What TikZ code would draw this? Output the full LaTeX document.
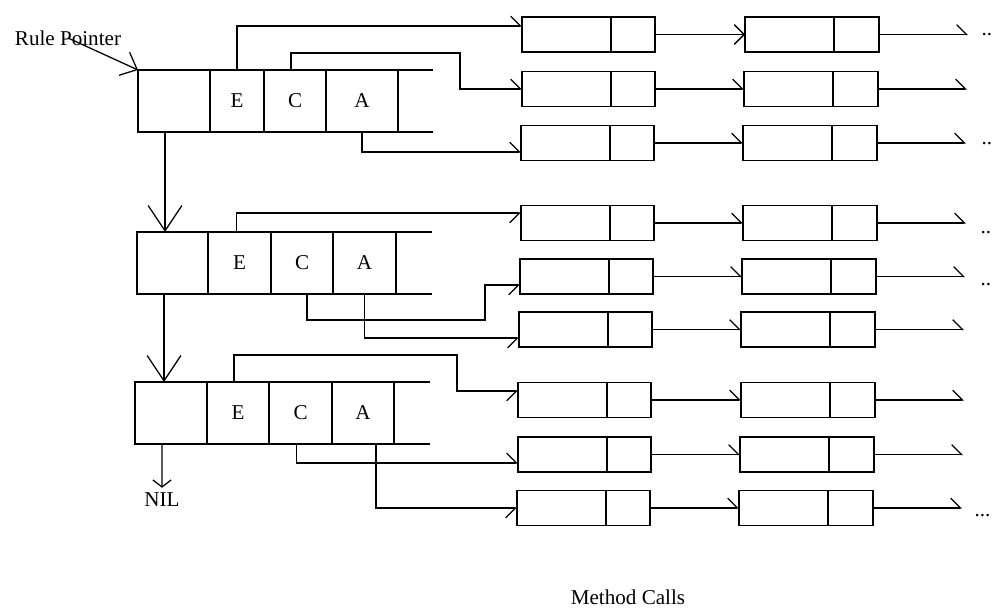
\documentclass[tikz,border=0pt]{standalone}
\usepackage{fontspec}
\setmainfont{Liberation Serif}
\usetikzlibrary{arrows.meta,positioning}

\tikzset{
  cell/.style={draw, inner sep=0pt, outer sep=0pt, minimum height=1.55cm, anchor=north west},
  slot/.style={draw, inner sep=0pt, outer sep=0pt, minimum height=0.875cm, anchor=west},
  upbarb/.style={-{Straight Barb[harpoon, length=7pt, width=14pt]}},
  lowbarb/.style={-{Straight Barb[harpoon, swap, length=7pt, width=14pt]}},
  fullbarb/.style={-{Straight Barb[length=7pt, width=14pt]}},
  drop/.style={-{Straight Barb[length=18pt, width=24pt]}},
}

\begin{document}
\begin{tikzpicture}[x=0.025cm, y=-0.025cm, line width=0.9pt, font=\fontsize{15}{18}\selectfont]
  \useasboundingbox (0,0) rectangle (994,609);

  % rule records
  \node[cell, minimum width=1.8cm] (p1) at (138,70) {};
  \node[cell, right=0pt of p1, minimum width=1.35cm] (e1) {E};
  \node[cell, right=0pt of e1, minimum width=1.55cm] (c1) {C};
  \node[cell, right=0pt of c1, minimum width=1.8cm] (a1) {A};
  \draw (a1.north east) -- ++(35,0) (a1.south east) -- ++(35,0);

  \node[cell, minimum width=1.775cm] (p2) at (137,232) {};
  \node[cell, right=0pt of p2, minimum width=1.575cm] (e2) {E};
  \node[cell, right=0pt of e2, minimum width=1.55cm] (c2) {C};
  \node[cell, right=0pt of c2, minimum width=1.575cm] (a2) {A};
  \draw (a2.north east) -- ++(36,0) (a2.south east) -- ++(36,0);

  \node[cell, minimum width=1.8cm] (p3) at (135,382) {};
  \node[cell, right=0pt of p3, minimum width=1.55cm] (e3) {E};
  \node[cell, right=0pt of e3, minimum width=1.575cm] (c3) {C};
  \node[cell, right=0pt of c3, minimum width=1.55cm] (a3) {A};
  \draw (a3.north east) -- ++(36,0) (a3.south east) -- ++(36,0);

  % rule pointer and chain
  \node (rp) at (68,38) {Rule Pointer};
  \draw[-{Straight Barb[length=10pt, width=18pt]}] (rp.center) -- (p1.north west);
  \draw[drop] ([xshift=0.675cm]p1.south west) -- ([xshift=0.675cm]p1.south west |- p2.north);
  \draw[drop] ([xshift=0.675cm]p2.south west) -- ([xshift=0.675cm]p2.south west |- p3.north);
  \node (nil) at (162,500) {NIL};
  \draw[-{Straight Barb[length=5pt, width=13pt]}] ([xshift=0.675cm]p3.south west) -- (nil.north);

  % method call lists
  \foreach \r/\y/\xa/\xb/\tip in {1/34.5/522/745/fullbarb, 2/89/522/744/upbarb, 3/143/521/743/upbarb,
      4/223/521/743/upbarb, 5/276.5/520/742/upbarb, 6/329.5/519/741/upbarb,
      7/400/518/741/upbarb, 8/454.5/518/740/upbarb, 9/508/517/739/upbarb} {
    \node[slot, minimum width=2.225cm] (m\r) at (\xa,\y) {};
    \node[slot, right=0pt of m\r, minimum width=1.1cm] (mt\r) {};
    \node[slot, minimum width=2.225cm] (n\r) at (\xb,\y) {};
    \node[slot, right=0pt of n\r, minimum width=1.125cm] (nt\r) {};
    \coordinate (end\r) at (\xb+223,\y);
    \draw[\tip] (mt\r) -- (n\r);
    \draw[upbarb] (nt\r) -- (end\r);
  }
  \node[anchor=base west, inner sep=0pt] (d1) at (981,36) {..};
  \node[anchor=base west, inner sep=0pt] (d3) at (981,145) {..};
  \node[anchor=base west, inner sep=0pt] (d4) at (980,234) {..};
  \node[anchor=base west, inner sep=0pt] (d5) at (980,286) {..};
  \node[anchor=base west, inner sep=0pt] (d9) at (974,517) {...};

  % connectors from the rules
  \draw[upbarb] (e1.north) |- ([yshift=0.2125cm]m1.west);
  \draw[upbarb] ([xshift=-0.1cm]c1.north) |- (460,53) |- (m2.west);
  \draw[upbarb] (a1.south) |- ([yshift=-0.225cm]m3.west);

  \draw[lowbarb] ([xshift=-0.075cm]e2.north) |- ([yshift=0.25cm]m4.west);
  \draw[lowbarb] ([xshift=0.125cm]c2.south) |- (485,320) |- ([yshift=-0.2125cm]m5.west);
  \draw[lowbarb] (a2.south) |- ([yshift=-0.2125cm]m6.west);

  \draw[lowbarb] ([xshift=-0.1cm]e3.north) |- (457,355) |- ([yshift=0.225cm]m7.west);
  \draw[upbarb] ([xshift=-0.1cm]c3.south) |- ([yshift=-0.2125cm]m8.west);
  \draw[lowbarb] ([xshift=0.325cm]a3.south) |- (m9.west);

  \node (mc) at (628,597) {Method Calls};
\end{tikzpicture}
\end{document}
